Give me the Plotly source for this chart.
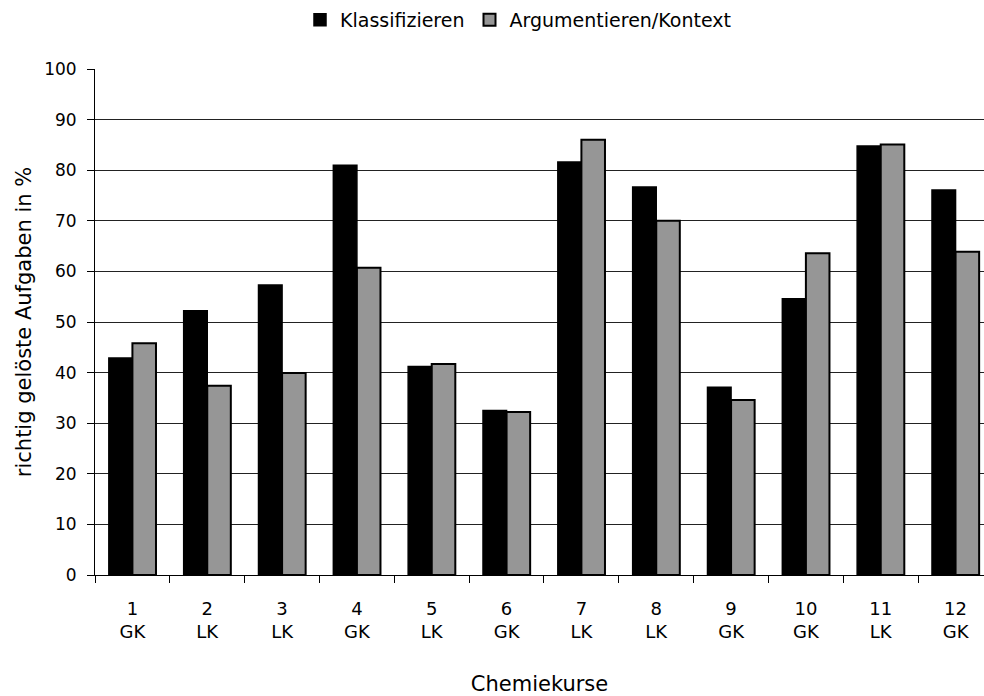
import plotly.graph_objects as go

kurse = ["1<br>GK", "2<br>LK", "3<br>LK", "4<br>GK", "5<br>LK", "6<br>GK",
         "7<br>LK", "8<br>LK", "9<br>GK", "10<br>GK", "11<br>LK", "12<br>GK"]
klassifizieren = [42.9, 52.2, 57.3, 81.0, 41.2, 32.5, 81.6, 76.7, 37.1, 54.6, 84.8, 76.1]
argumentieren = [45.8, 37.4, 39.9, 60.7, 41.7, 32.2, 86.0, 70.0, 34.6, 63.6, 85.1, 63.9]
y_ticks = [0, 10, 20, 30, 40, 50, 60, 70, 80, 90, 100]

FONT = "DejaVu Sans"

fig = go.Figure()
fig.add_trace(go.Bar(x=kurse, y=klassifizieren, name="Klassifizieren",
                     marker=dict(color="#000000", line=dict(color="#000000", width=1.5))))
fig.add_trace(go.Bar(x=kurse, y=argumentieren, name="Argumentieren/Kontext",
                     marker=dict(color="#969696", line=dict(color="#000000", width=2))))

fig.update_layout(
    width=984, height=696,
    margin=dict(l=95, r=0, t=69, b=121, autoexpand=False),
    paper_bgcolor="white", plot_bgcolor="white",
    barmode="group", bargap=0.37, bargroupgap=0,
    font=dict(family=FONT, size=17, color="#000000"),
    legend=dict(orientation="h", x=0.2306, xanchor="left", y=1.097,
                yanchor="middle", font=dict(size=19), itemwidth=30,
                traceorder="normal"),
    showlegend=True,
)
fig.update_xaxes(
    type="category", range=[-0.5, 11.38], tickson="boundaries",
    ticks="outside", ticklen=7, tickcolor="#000000", tickwidth=1,
    showline=True, linecolor="#000000", linewidth=1, automargin=False,
    showgrid=False, tickfont=dict(size=18), ticklabelstandoff=17,
    title=dict(text="Chemiekurse", standoff=37, font=dict(size=21)),
)
fig.update_yaxes(
    range=[0, 100], tickvals=y_ticks, ticks="outside", ticklen=7,
    tickcolor="#000000", showline=True, linecolor="#000000", linewidth=1,
    showgrid=True, gridcolor="#222222", gridwidth=1, zeroline=False,
    automargin=False, ticklabelstandoff=7,
    tickfont=dict(size=17),
    title=dict(text="richtig gelöste Aufgaben in %", standoff=6, font=dict(size=21)),
)

fig.write_html("out.html", config={"displayModeBar": False},
               post_script="document.body.style.margin='0';")
